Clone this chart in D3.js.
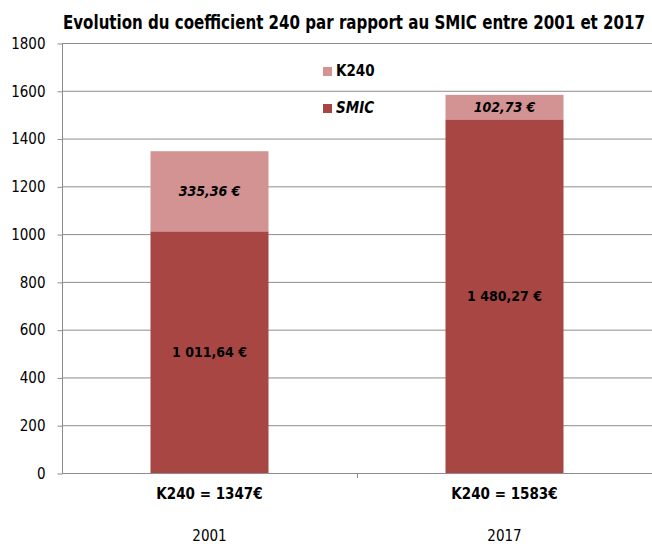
<!DOCTYPE html>
<html>
<head>
<meta charset="utf-8">
<script src="https://cdn.jsdelivr.net/npm/d3@7"></script>
<style>
  body { margin: 0; background: #fff; }
  text { font-family: "Liberation Sans Narrow", "DejaVu Sans Condensed", "Open Sans", sans-serif; }
</style>
</head>
<body>
<div id="chart"></div>
<script>
// data
var years = ["2001", "2017"];
var catLabels = ["K240 = 1347€", "K240 = 1583€"];
var smic = [1011.64, 1480.27];
var k240 = [335.36, 102.73];
var smicLabels = ["1 011,64 €", "1 480,27 €"];
var k240Labels = ["335,36 €", "102,73 €"];
var yTicks = [0, 200, 400, 600, 800, 1000, 1200, 1400, 1600, 1800];

var w = 652, h = 547;
var padL = 62, padR = 652, padT = 43, padB = 473;

var colSmic = "#a84644", colK = "#d39392";

var svg = d3.select("#chart").append("svg")
  .attr("width", w).attr("height", h);

var yScale = d3.scaleLinear().domain([0, 1800]).range([padB, padT]);
var xScale = d3.scaleBand().domain(years).range([padL, padR])
  .paddingInner(0.6).paddingOuter(0.3);

// gridlines
svg.append("g").selectAll("line")
  .data(yTicks.filter(function(d) { return d > 0; }))
  .enter().append("line")
  .attr("x1", padL).attr("x2", padR)
  .attr("y1", function(d) { return yScale(d) + 0.5; })
  .attr("y2", function(d) { return yScale(d) + 0.5; })
  .attr("stroke", "#8c8c8c").attr("stroke-width", 1);

// y axis
var yAxis = d3.axisLeft(yScale).tickValues(yTicks).tickSize(5).tickPadding(12)
  .tickFormat(d3.format("d"));
var gy = svg.append("g").attr("transform", "translate(" + (padL + 0.5) + ",0.5)").call(yAxis);
gy.selectAll("path, line").attr("stroke", "#8c8c8c");
gy.select(".domain").attr("d", "M0," + padT + "V" + padB);
gy.selectAll("text").style("font-size", "15px").attr("fill", "#000")
  .style("font-family", "'Liberation Sans Narrow', 'DejaVu Sans Condensed', sans-serif");

// bars
var rows = years.map(function(y, i) {
  return { year: y, smic: smic[i], k: k240[i], sl: smicLabels[i], kl: k240Labels[i] };
});

var bw = xScale.bandwidth();
var g = svg.append("g");
g.selectAll("rect.smic").data(rows).enter().append("rect")
  .attr("x", function(d) { return xScale(d.year); })
  .attr("width", bw)
  .attr("y", function(d) { return yScale(d.smic); })
  .attr("height", function(d) { return yScale(0) - yScale(d.smic); })
  .attr("fill", colSmic);
g.selectAll("rect.k").data(rows).enter().append("rect")
  .attr("x", function(d) { return xScale(d.year); })
  .attr("width", bw)
  .attr("y", function(d) { return yScale(d.smic + d.k); })
  .attr("height", function(d) { return yScale(d.smic) - yScale(d.smic + d.k); })
  .attr("fill", colK);

// value labels
g.selectAll("text.sl").data(rows).enter().append("text")
  .attr("x", function(d) { return xScale(d.year) + bw / 2; })
  .attr("y", function(d) { return yScale(d.smic / 2) + 5; })
  .attr("text-anchor", "middle")
  .style("font-size", "14px").style("font-weight", "bold")
  .text(function(d) { return d.sl; });
g.selectAll("text.kl").data(rows).enter().append("text")
  .attr("x", function(d) { return xScale(d.year) + bw / 2; })
  .attr("y", function(d) { return yScale(d.smic + d.k / 2) + 5; })
  .attr("text-anchor", "middle")
  .style("font-size", "14px").style("font-weight", "bold").style("font-style", "italic")
  .text(function(d) { return d.kl; });

// x axis
svg.append("line").attr("x1", padL).attr("x2", padR)
  .attr("y1", padB + 0.5).attr("y2", padB + 0.5).attr("stroke", "#8c8c8c");
var midX = Math.round((xScale("2001") + xScale("2017") + bw) / 2) + 0.5;
svg.append("line").attr("x1", midX).attr("x2", midX)
  .attr("y1", padB).attr("y2", padB + 5).attr("stroke", "#8c8c8c");

svg.append("g").selectAll("text").data(years).enter().append("text")
  .attr("x", function(d) { return xScale(d) + bw / 2; })
  .attr("y", 499)
  .attr("text-anchor", "middle")
  .style("font-size", "15px").style("font-weight", "bold")
  .text(function(d, i) { return catLabels[i]; });

svg.append("g").selectAll("text").data(years).enter().append("text")
  .attr("x", function(d) { return xScale(d) + bw / 2; })
  .attr("y", 541)
  .attr("text-anchor", "middle")
  .style("font-size", "15px")
  .text(function(d) { return d; });

// legend
var legend = [
  { name: "K240", color: colK, italic: false, y: 71 },
  { name: "SMIC", color: colSmic, italic: true, y: 108 }
];
var lg = svg.append("g").selectAll("g").data(legend).enter().append("g");
lg.append("rect").attr("x", 323).attr("y", function(d) { return d.y - 4; })
  .attr("width", 9).attr("height", 9).attr("fill", function(d) { return d.color; });
lg.append("text").attr("x", 336).attr("y", function(d) { return d.y + 5; })
  .style("font-size", "15px").style("font-weight", "bold")
  .style("font-style", function(d) { return d.italic ? "italic" : "normal"; })
  .text(function(d) { return d.name; });

// title
svg.append("text").attr("x", 63).attr("y", 29)
  .attr("textLength", 582).attr("lengthAdjust", "spacingAndGlyphs")
  .style("font-size", "19px").style("font-weight", "bold")
  .text("Evolution du coefficient 240 par rapport au SMIC entre 2001 et 2017");
</script>
</body>
</html>
